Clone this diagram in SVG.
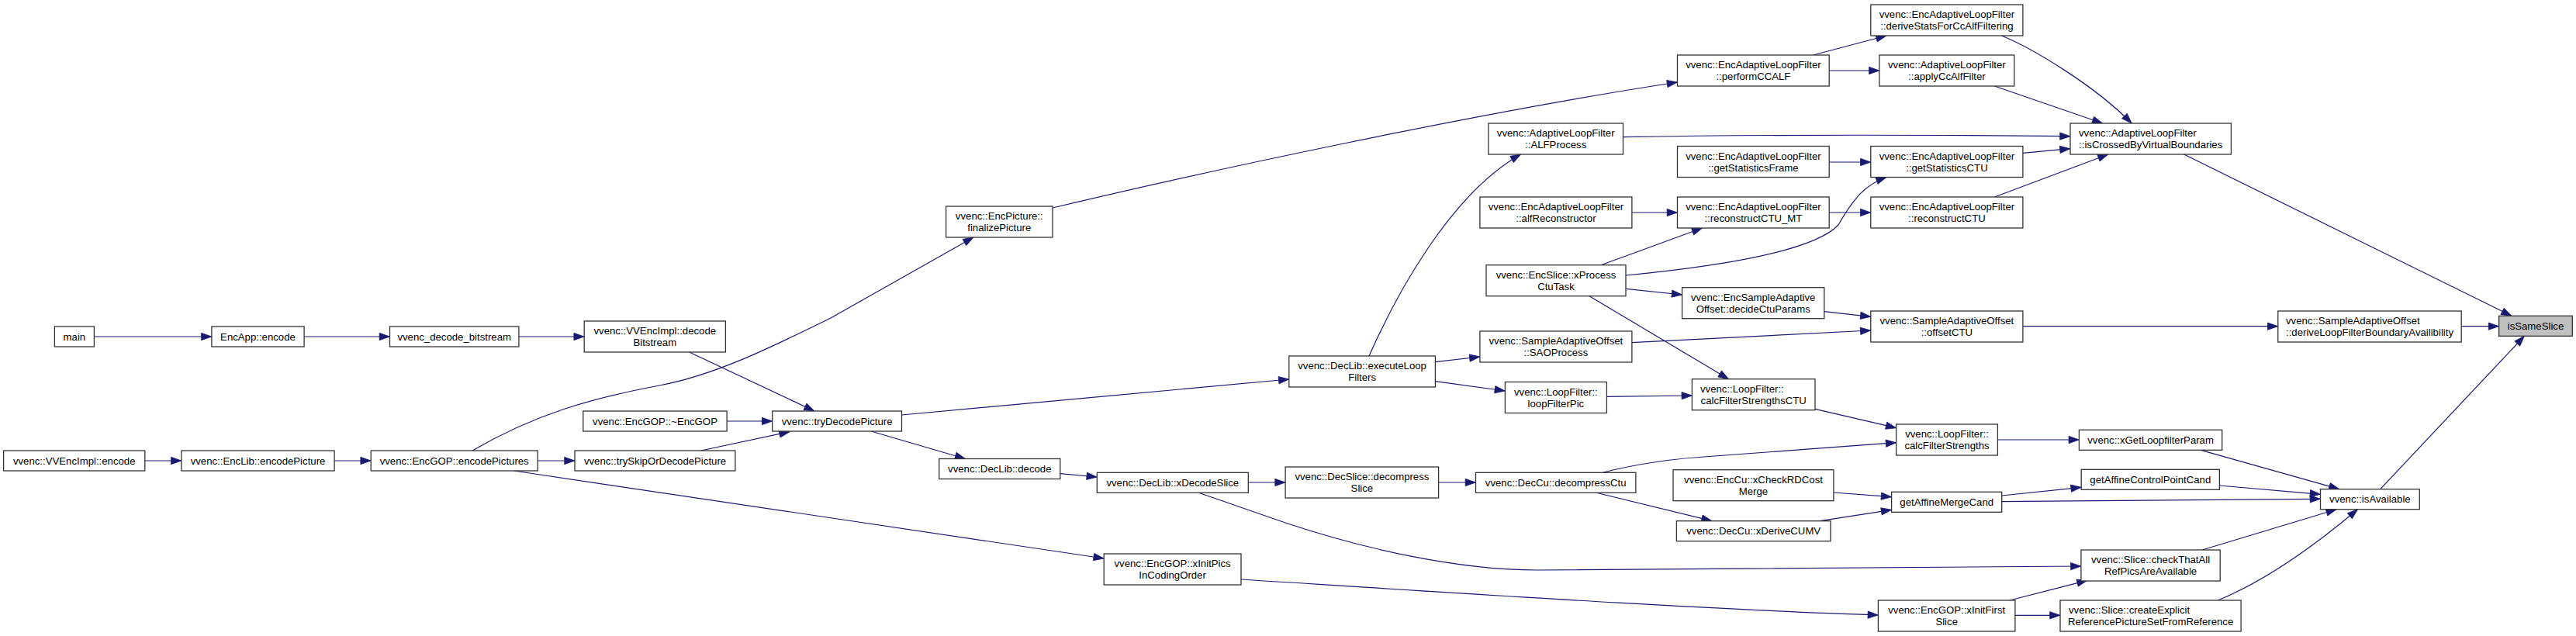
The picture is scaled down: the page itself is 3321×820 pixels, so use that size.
<svg xmlns="http://www.w3.org/2000/svg" width="3321" height="820" viewBox="0 0 3321 820">
<defs>
<style>
.n rect{fill:#fff;stroke:#333;stroke-width:1.3}
.n.h rect{fill:#bfbfbf}
text{font-family:"Liberation Sans",Arial,Helvetica,sans-serif;font-size:13.2px;fill:#000}
.c{text-anchor:middle}
#edges path{fill:none;stroke:#191970;stroke-width:1.2;marker-end:url(#ah)}
</style>
<marker id="ah" markerWidth="14" markerHeight="10" refX="13.3" refY="4.65" orient="auto" markerUnits="userSpaceOnUse" overflow="visible">
<path d="M0,0 L13.3,4.65 L0,9.3 z" fill="#191970" stroke="#191970" stroke-width="0.8"/>
</marker>
</defs>
<rect width="3321" height="820" fill="#fff"/>
<g id="edges">
<path d="M121.4,434 L272.9,434"/>
<path d="M392.1,434 L502.5,434"/>
<path d="M668.9,434 L753.2,434"/>
<path d="M186.8,594 L233.9,594"/>
<path d="M431.1,594 L478.2,594"/>
<path d="M693.2,594 L741,594"/>
<path d="M609,581 C690,534 760,514 850,497 C920,484 990,450 1071,410 L1255,306"/>
<path d="M888.6,454 L1050,530"/>
<path d="M937.1,543 L995.7,543"/>
<path d="M903.6,581 L1018,556.7"/>
<path d="M662.5,607 L1423.2,720"/>
<path d="M1162.5,535 L1661.8,489"/>
<path d="M1123,556 L1244.6,591.5"/>
<path d="M1366.8,610.7 L1414.3,615"/>
<path d="M1609.3,622 L1657.1,622"/>
<path d="M1544.6,635 L1660,675 C1760,708 1880,735 1982,735 L2682.9,730"/>
<path d="M1600,747 C1900,766 2200,786 2421.4,793"/>
<path d="M1357,268 C1550,222 1900,146 2162.5,106"/>
<path d="M2092.5,176.7 C2300,173 2500,174 2669,175.7"/>
<path d="M2358.2,209 L2411.8,209"/>
<path d="M2103.9,274 L2162.5,274"/>
<path d="M2358.2,274 L2411.8,274"/>
<path d="M2064,341.7 L2194.6,294"/>
<path d="M2096,355 C2230,342 2340,322 2370,290 C2390,255 2405,238 2432,228.5"/>
<path d="M2096,372.3 L2168.6,380"/>
<path d="M2049,381.7 L2228.6,488.7"/>
<path d="M1765,459 C1800,380 1870,250 1960.7,199"/>
<path d="M1850.4,466.7 L1907.9,460"/>
<path d="M1850.4,491.7 L1940.4,504"/>
<path d="M2071.4,511.3 L2181.4,510"/>
<path d="M2103.9,441.7 C2250,434 2350,430 2411.8,426"/>
<path d="M2351.8,401.7 L2411.8,408.3"/>
<path d="M2607.9,420.7 L2936.8,420.7"/>
<path d="M3173.2,420.7 L3221.6,420.7"/>
<path d="M2815.6,199 L3238,407.3"/>
<path d="M3068.7,630.7 L3254.4,433.3"/>
<path d="M1854.6,622 L1902.5,622"/>
<path d="M2066,609.3 C2110,598 2160,591 2210,588 L2444.6,570.7"/>
<path d="M2057,635 L2207,671.7"/>
<path d="M2340,527.3 L2444.6,551.7"/>
<path d="M2575.4,567 L2680.4,567"/>
<path d="M2837.4,580.3 L3015.9,630.7"/>
<path d="M2363.9,635 L2438.6,640.7"/>
<path d="M2346.4,671.7 L2438.6,657.3"/>
<path d="M2580.7,639 L2683.2,628.3"/>
<path d="M2580.7,646.7 L2991.5,643.3"/>
<path d="M2861.4,626 L2991.5,637.3"/>
<path d="M2839.2,709 L3012.2,656.7"/>
<path d="M2859.3,774 C2930,745 3000,690 3039.5,656.7"/>
<path d="M2591,774 L2691,748.3"/>
<path d="M2597.9,793.3 L2656,793.3"/>
<path d="M2580.4,46 C2620,62 2700,110 2748.2,159"/>
<path d="M2571.4,111 L2710.7,159"/>
<path d="M2607.9,197.3 L2669,191.7"/>
<path d="M2571.4,254 L2717.9,199"/>
<path d="M2337.5,71 L2432,46"/>
<path d="M2358.2,91 L2422.9,91"/>
</g>
<g id="n_main" class="n"><rect x="70.4" y="421" width="51" height="26"/><text class="c" x="95.9" y="438.5">main</text></g>
<g id="n_encapp" class="n"><rect x="272.9" y="421" width="119.2" height="26"/><text class="c" x="332.5" y="438.5">EncApp::encode</text></g>
<g id="n_vvdec" class="n"><rect x="502.5" y="421" width="166.4" height="26"/><text class="c" x="585.7" y="438.5">vvenc_decode_bitstream</text></g>
<g id="n_decbs" class="n"><rect x="753.2" y="414" width="182.2" height="40"/><text class="c" x="844.3" y="431">vvenc::VVEncImpl::decode</text><text class="c" x="844.3" y="446">Bitstream</text></g>
<g id="n_vvencode" class="n"><rect x="4.6" y="581" width="182.2" height="26"/><text class="c" x="95.7" y="598.5">vvenc::VVEncImpl::encode</text></g>
<g id="n_enclib" class="n"><rect x="233.9" y="581" width="197.2" height="26"/><text class="c" x="332.5" y="598.5">vvenc::EncLib::encodePicture</text></g>
<g id="n_encpics" class="n"><rect x="478.2" y="581" width="215" height="26"/><text class="c" x="585.7" y="598.5">vvenc::EncGOP::encodePictures</text></g>
<g id="n_dtor" class="n"><rect x="751.8" y="530" width="185.3" height="26"/><text class="c" x="844.5" y="547.5">vvenc::EncGOP::~EncGOP</text></g>
<g id="n_tryskip" class="n"><rect x="741" y="581" width="206.9" height="26"/><text class="c" x="844.5" y="598.5">vvenc::trySkipOrDecodePicture</text></g>
<g id="n_trydec" class="n"><rect x="995.7" y="530" width="166.8" height="26"/><text class="c" x="1079.1" y="547.5">vvenc::tryDecodePicture</text></g>
<g id="n_final" class="n"><rect x="1219.6" y="266" width="137.4" height="40"/><text class="c" x="1288.3" y="283">vvenc::EncPicture::</text><text class="c" x="1288.3" y="298">finalizePicture</text></g>
<g id="n_decode" class="n"><rect x="1210.7" y="591.5" width="156.1" height="26"/><text class="c" x="1288.8" y="609">vvenc::DecLib::decode</text></g>
<g id="n_xdecslice" class="n"><rect x="1414.3" y="609.3" width="195" height="26"/><text class="c" x="1511.8" y="626.8">vvenc::DecLib::xDecodeSlice</text></g>
<g id="n_xinitpics" class="n"><rect x="1423.2" y="714" width="176.8" height="40"/><text class="c" x="1511.6" y="731">vvenc::EncGOP::xInitPics</text><text class="c" x="1511.6" y="746">InCodingOrder</text></g>
<g id="n_execlf" class="n"><rect x="1661.8" y="459" width="188.6" height="40"/><text class="c" x="1756.1" y="476">vvenc::DecLib::executeLoop</text><text class="c" x="1756.1" y="491">Filters</text></g>
<g id="n_decslice" class="n"><rect x="1657.1" y="602" width="197.5" height="40"/><text class="c" x="1755.9" y="619">vvenc::DecSlice::decompress</text><text class="c" x="1755.9" y="634">Slice</text></g>
<g id="n_alfproc" class="n"><rect x="1918.9" y="159" width="173.6" height="40"/><text class="c" x="2005.7" y="176">vvenc::AdaptiveLoopFilter</text><text class="c" x="2005.7" y="191">::ALFProcess</text></g>
<g id="n_alfrecon" class="n"><rect x="1907.9" y="254" width="196" height="40"/><text class="c" x="2005.9" y="271">vvenc::EncAdaptiveLoopFilter</text><text class="c" x="2005.9" y="286">::alfReconstructor</text></g>
<g id="n_xproc" class="n"><rect x="1916" y="341.7" width="180" height="40"/><text class="c" x="2006" y="358.7">vvenc::EncSlice::xProcess</text><text class="c" x="2006" y="373.7">CtuTask</text></g>
<g id="n_saoproc" class="n"><rect x="1907.9" y="427" width="196" height="40"/><text class="c" x="2005.9" y="444">vvenc::SampleAdaptiveOffset</text><text class="c" x="2005.9" y="459">::SAOProcess</text></g>
<g id="n_lfpic" class="n"><rect x="1940.4" y="492.5" width="131" height="40"/><text class="c" x="2005.9" y="509.5">vvenc::LoopFilter::</text><text class="c" x="2005.9" y="524.5">loopFilterPic</text></g>
<g id="n_deccu" class="n"><rect x="1902.5" y="609.3" width="206.4" height="26"/><text class="c" x="2005.7" y="626.8">vvenc::DecCu::decompressCtu</text></g>
<g id="n_ccalf" class="n"><rect x="2162.5" y="71" width="195.7" height="40"/><text class="c" x="2260.4" y="88">vvenc::EncAdaptiveLoopFilter</text><text class="c" x="2260.4" y="103">::performCCALF</text></g>
<g id="n_statframe" class="n"><rect x="2162.5" y="188.5" width="195.7" height="40"/><text class="c" x="2260.4" y="205.5">vvenc::EncAdaptiveLoopFilter</text><text class="c" x="2260.4" y="220.5">::getStatisticsFrame</text></g>
<g id="n_reconmt" class="n"><rect x="2162.5" y="254" width="195.7" height="40"/><text class="c" x="2260.4" y="271">vvenc::EncAdaptiveLoopFilter</text><text class="c" x="2260.4" y="286">::reconstructCTU_MT</text></g>
<g id="n_decide" class="n"><rect x="2168.6" y="370.7" width="183.2" height="40"/><text class="c" x="2260.2" y="387.7">vvenc::EncSampleAdaptive</text><text class="c" x="2260.2" y="402.7">Offset::decideCtuParams</text></g>
<g id="n_cfsctu" class="n"><rect x="2181.4" y="488.7" width="158.6" height="40"/><text x="2192" y="505.7">vvenc::LoopFilter::</text><text class="c" x="2260.7" y="520.7">calcFilterStrengthsCTU</text></g>
<g id="n_xcheck" class="n"><rect x="2157" y="605.7" width="206.9" height="40"/><text class="c" x="2260.5" y="622.7">vvenc::EncCu::xCheckRDCost</text><text class="c" x="2260.5" y="637.7">Merge</text></g>
<g id="n_xderive" class="n"><rect x="2161.4" y="671.7" width="198.6" height="26"/><text class="c" x="2260.7" y="689.2">vvenc::DecCu::xDeriveCUMV</text></g>
<g id="n_derivestats" class="n"><rect x="2411.8" y="6" width="196.1" height="40"/><text class="c" x="2509.9" y="23">vvenc::EncAdaptiveLoopFilter</text><text class="c" x="2509.9" y="38">::deriveStatsForCcAlfFiltering</text></g>
<g id="n_applycc" class="n"><rect x="2422.9" y="71" width="173.9" height="40"/><text class="c" x="2509.9" y="88">vvenc::AdaptiveLoopFilter</text><text class="c" x="2509.9" y="103">::applyCcAlfFilter</text></g>
<g id="n_statctu" class="n"><rect x="2411.8" y="188.5" width="196.1" height="40"/><text class="c" x="2509.9" y="205.5">vvenc::EncAdaptiveLoopFilter</text><text class="c" x="2509.9" y="220.5">::getStatisticsCTU</text></g>
<g id="n_recon" class="n"><rect x="2411.8" y="254" width="196.1" height="40"/><text class="c" x="2509.9" y="271">vvenc::EncAdaptiveLoopFilter</text><text class="c" x="2509.9" y="286">::reconstructCTU</text></g>
<g id="n_offsetctu" class="n"><rect x="2411.8" y="401" width="196.1" height="40"/><text class="c" x="2509.9" y="418">vvenc::SampleAdaptiveOffset</text><text class="c" x="2509.9" y="433">::offsetCTU</text></g>
<g id="n_cfs" class="n"><rect x="2444.6" y="547" width="130.8" height="40"/><text class="c" x="2510" y="564">vvenc::LoopFilter::</text><text class="c" x="2510" y="579">calcFilterStrengths</text></g>
<g id="n_getamc" class="n"><rect x="2438.6" y="634.3" width="142.1" height="26"/><text class="c" x="2509.7" y="651.8">getAffineMergeCand</text></g>
<g id="n_xinitfirst" class="n"><rect x="2421.4" y="774" width="176.5" height="40"/><text class="c" x="2509.7" y="791">vvenc::EncGOP::xInitFirst</text><text class="c" x="2509.7" y="806">Slice</text></g>
<g id="n_iscrossed" class="n"><rect x="2669" y="159" width="207.4" height="40"/><text x="2680" y="176">vvenc::AdaptiveLoopFilter</text><text class="c" x="2772.7" y="191">::isCrossedByVirtualBoundaries</text></g>
<g id="n_xgetlfp" class="n"><rect x="2680.4" y="554.3" width="184.3" height="26"/><text class="c" x="2772.6" y="571.8">vvenc::xGetLoopfilterParam</text></g>
<g id="n_getacpc" class="n"><rect x="2683.2" y="605.3" width="178.2" height="26"/><text class="c" x="2772.3" y="622.8">getAffineControlPointCand</text></g>
<g id="n_checkall" class="n"><rect x="2682.9" y="709" width="179.3" height="40"/><text class="c" x="2772.6" y="726">vvenc::Slice::checkThatAll</text><text class="c" x="2772.6" y="741">RefPicsAreAvailable</text></g>
<g id="n_createexp" class="n"><rect x="2656" y="774" width="233.1" height="40"/><text x="2667" y="791">vvenc::Slice::createExplicit</text><text class="c" x="2772.6" y="806">ReferencePictureSetFromReference</text></g>
<g id="n_deriveloop" class="n"><rect x="2936.8" y="401" width="236.4" height="40"/><text x="2947" y="418">vvenc::SampleAdaptiveOffset</text><text class="c" x="3055" y="433">::deriveLoopFilterBoundaryAvailibility</text></g>
<g id="n_isavail" class="n"><rect x="2991.5" y="630.7" width="127.8" height="26"/><text class="c" x="3055.4" y="648.2">vvenc::isAvailable</text></g>
<g id="n_issame" class="n h"><rect x="3221.6" y="407.3" width="94.7" height="26"/><text class="c" x="3269" y="424.8">isSameSlice</text></g>
</svg>
